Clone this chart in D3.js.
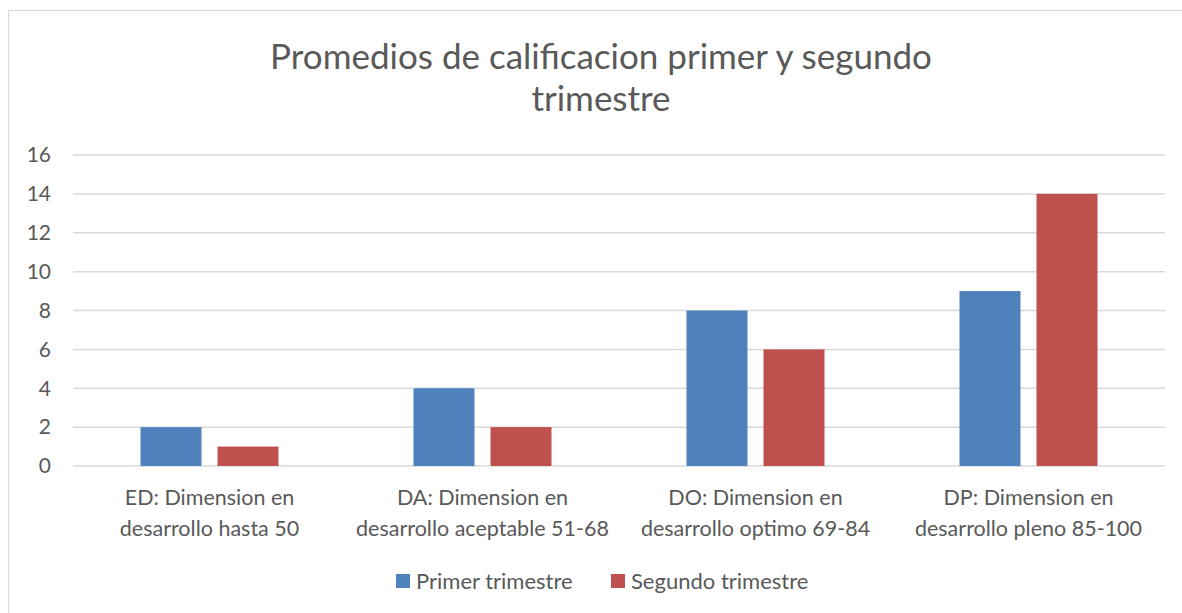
<!DOCTYPE html>
<html>
<head>
<meta charset="utf-8">
<script src="https://cdn.jsdelivr.net/npm/d3@7"></script>
<style>
  body { margin: 0; background: #fff; }
  svg { display: block; font-family: Lato, "Open Sans", sans-serif; }
</style>
</head>
<body>
<svg id="chart" width="1182" height="613"></svg>
<script>
const categories = [
    ['ED: Dimension en', 'desarrollo hasta 50'],
    ['DA: Dimension en', 'desarrollo aceptable 51-68'],
    ['DO: Dimension en', 'desarrollo optimo 69-84'],
    ['DP: Dimension en', 'desarrollo pleno 85-100']
];
const seriesNames = ['Primer trimestre', 'Segundo trimestre'];
const primer = [2, 4, 8, 9];
const segundo = [1, 2, 6, 14];
const yTicks = [0, 2, 4, 6, 8, 10, 12, 14, 16];
const colors = ['#4f81bd', '#c0504d'];

const svg = d3.select('#chart');
const plot = {left: 73, right: 1165, top: 155, bottom: 466};

// outer frame
svg.append('rect')
    .attr('x', 8.5).attr('y', 10.5)
    .attr('width', 1190).attr('height', 620)
    .attr('fill', 'none')
    .attr('stroke', '#d9d9d9')
    .attr('stroke-width', 1.2);

// title
svg.append('text')
    .attr('x', 601).attr('text-anchor', 'middle')
    .attr('fill', '#595959').attr('font-size', 35)
  .selectAll('tspan')
  .data(['Promedios de calificacion primer y segundo', 'trimestre'])
  .enter()
  .append('tspan')
    .attr('x', 601)
    .attr('y', (d, i) => 69 + i * 42)
    .text((d) => d);

const x = d3.scaleBand()
    .domain(d3.range(categories.length))
    .range([plot.left, plot.right]);
const y = d3.scaleLinear()
    .domain([0, 16])
    .range([plot.bottom, plot.top]);

// gridlines
svg.append('g')
  .selectAll('line')
  .data(yTicks)
  .enter()
  .append('line')
    .attr('x1', plot.left).attr('x2', plot.right)
    .attr('y1', (d) => y(d)).attr('y2', (d) => y(d))
    .attr('stroke', '#d9d9d9')
    .attr('stroke-width', 1.5);

// y labels
svg.append('g')
  .selectAll('text')
  .data(yTicks)
  .enter()
  .append('text')
    .attr('x', 51)
    .attr('y', (d) => y(d))
    .attr('dy', '0.35em')
    .attr('text-anchor', 'end')
    .attr('fill', '#595959')
    .attr('font-size', 21)
    .text((d) => d);

// bars
const groupWidth = 138;
const x1 = d3.scaleBand()
    .domain([0, 1])
    .range([0, groupWidth])
    .paddingInner(16 / 77);
const series = [primer, segundo];
series.forEach((vals, s) => {
    svg.append('g')
      .selectAll('rect')
      .data(vals)
      .enter()
      .append('rect')
        .attr('x', (d, i) => x(i) + (x.bandwidth() - groupWidth) / 2 + x1(s))
        .attr('y', (d) => y(d))
        .attr('width', x1.bandwidth())
        .attr('height', (d) => y(0) - y(d))
        .attr('fill', colors[s]);
});

// category labels
const catLabels = svg.append('g')
  .selectAll('text')
  .data(categories)
  .enter()
  .append('text')
    .attr('text-anchor', 'middle')
    .attr('fill', '#595959')
    .attr('font-size', 21.5);
catLabels.selectAll('tspan')
  .data((d, i) => d.map((t) => ({t, i})))
  .enter()
  .append('tspan')
    .attr('x', (d) => x(d.i) + x.bandwidth() / 2)
    .attr('y', (d, j) => 505 + j * 31)
    .text((d) => d.t);

// legend
const legendX = [396, 611];
const legend = svg.append('g')
  .selectAll('g')
  .data(seriesNames)
  .enter()
  .append('g')
    .attr('transform', (d, i) => `translate(${legendX[i]}, 574)`);
legend.append('rect')
    .attr('width', 14).attr('height', 14)
    .attr('fill', (d, i) => colors[i]);
legend.append('text')
    .attr('x', 20).attr('y', 7)
    .attr('dy', '0.35em')
    .attr('fill', '#595959')
    .attr('font-size', 22)
    .text((d) => d);
</script>
</body>
</html>
